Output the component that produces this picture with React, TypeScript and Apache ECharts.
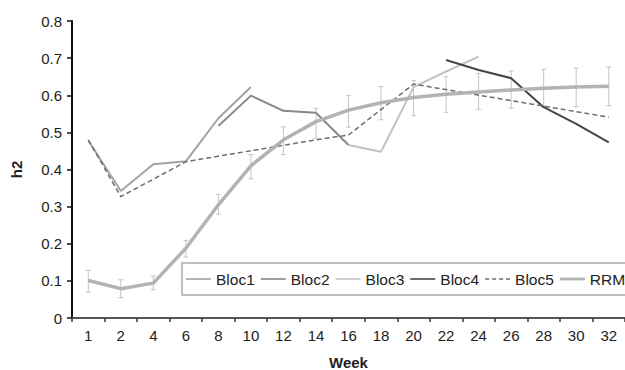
import React, { useEffect, useRef } from "react";
import * as echarts from "echarts";

const weeks = ["1", "2", "4", "6", "8", "10", "12", "14", "16", "18", "20", "22", "24", "26", "28", "30", "32"];
const bloc1 = [0.478, 0.342, 0.414, 0.422, 0.538, 0.622, null, null, null, null, null, null, null, null, null, null, null];
const bloc2 = [null, null, null, null, 0.517, 0.599, 0.558, 0.553, 0.466, null, null, null, null, null, null, null, null];
const bloc3 = [null, null, null, null, null, null, null, null, 0.466, 0.448, 0.622, 0.664, 0.704, null, null, null, null];
const bloc4 = [null, null, null, null, null, null, null, null, null, null, null, 0.695, 0.668, 0.646, 0.568, 0.523, 0.473];
const bloc5 = [0.48, 0.327, null, 0.421, null, null, null, 0.48, 0.493, null, 0.63, null, null, null, null, null, 0.541];
const rrm = [0.101, 0.079, 0.094, 0.188, 0.305, 0.41, 0.48, 0.529, 0.56, 0.58, 0.594, 0.603, 0.609, 0.614, 0.619, 0.622, 0.624];
const rrmLow = [0.07, 0.055, 0.076, 0.164, 0.28, 0.375, 0.44, 0.484, 0.514, 0.534, 0.545, 0.554, 0.562, 0.565, 0.569, 0.569, 0.572];
const rrmHigh = [0.128, 0.103, 0.113, 0.209, 0.333, 0.44, 0.515, 0.565, 0.599, 0.623, 0.64, 0.65, 0.659, 0.665, 0.67, 0.673, 0.676];

const FONT = "'Liberation Sans', Arial, sans-serif";

const ICON_SOLID = "path://M0,0M25,4M0,1.2h25v1.6h-25z";
const ICON_DASH = "path://M0,0M25,4M0,1.3h4v1.4h-4zM7,1.3h4v1.4h-4zM14,1.3h4v1.4h-4zM21,1.3h4v1.4h-4z";
const ICON_THICK = "path://M0,0M25,4M0,0.6h25v2.8h-25z";

export default function App() {
  const ref = useRef<HTMLDivElement>(null);
  useEffect(() => {
    if (!ref.current) return;
    const chart = echarts.init(ref.current, null, { renderer: "svg" });
    const lineSeries = (name: string, data: any[], color: string, width: number, extra: any = {}) => ({
      name,
      type: "line",
      data,
      symbol: "none",
      connectNulls: !!extra.connectNulls,
      lineStyle: { color, width, ...(extra.lineStyle || {}) },
      itemStyle: { color },
      z: extra.z ?? 3,
    });
    chart.setOption({
      animation: false,
      backgroundColor: "#ffffff",
      textStyle: { fontFamily: FONT },
      grid: { left: 72, right: 0, top: 21, bottom: 52, containLabel: false, outerBoundsMode: "none" },
      legend: {
        left: 182,
        top: 263,
        width: 480,
        orient: "horizontal",
        data: [
          { name: "Bloc1", icon: ICON_SOLID },
          { name: "Bloc2", icon: ICON_SOLID },
          { name: "Bloc3", icon: ICON_SOLID },
          { name: "Bloc4", icon: ICON_SOLID },
          { name: "Bloc5", icon: ICON_DASH },
          { name: "RRM", icon: ICON_THICK },
        ],
        itemWidth: 25,
        itemHeight: 4,
        itemGap: 6,
        padding: [8, 30, 8, 4],
        borderColor: "#aaaaaa",
        borderWidth: 1.5,
        borderRadius: 0,
        backgroundColor: "#ffffff",
        textStyle: { fontFamily: FONT, fontSize: 15.5, color: "#222" },
      },
      xAxis: {
        type: "category",
        data: weeks,
        boundaryGap: true,
        name: "Week",
        nameLocation: "middle",
        nameGap: 37,
        nameTextStyle: { fontFamily: FONT, fontSize: 15, fontWeight: "bold", color: "#222" },
        axisLine: { lineStyle: { color: "#555", width: 2 } },
        axisTick: { show: true, inside: false, length: 4, alignWithLabel: false, lineStyle: { color: "#333", width: 1.5 } },
        axisLabel: { fontFamily: FONT, fontSize: 15, color: "#222", margin: 10, interval: 0 },
        splitLine: { show: false },
      },
      yAxis: {
        type: "value",
        min: 0,
        max: 0.8,
        interval: 0.1,
        name: "h2",
        nameLocation: "middle",
        nameRotate: 90,
        nameGap: 48,
        nameTextStyle: { fontFamily: FONT, fontSize: 15, fontWeight: "bold", color: "#222" },
        axisLine: { show: true, lineStyle: { color: "#111", width: 2 } },
        axisTick: { show: true, length: 5, lineStyle: { color: "#111", width: 1.5 } },
        axisLabel: { fontFamily: FONT, fontSize: 15, color: "#222", margin: 10, formatter: (v: number) => (v === 0 ? "0" : v.toFixed(1)) },
        splitLine: { show: false },
      },
      series: [
        {
          name: "err",
          type: "custom",
          data: weeks.map((_, i) => [i, rrmLow[i], rrmHigh[i]]),
          encode: { x: 0, y: [1, 2] },
          z: 1,
          silent: true,
          renderItem: (_params: any, api: any) => {
            const x = api.value(0);
            const lo = api.coord([x, api.value(1)]);
            const hi = api.coord([x, api.value(2)]);
            const w = 2.5;
            const st = { stroke: "#c4c4c4", lineWidth: 1 };
            return {
              type: "group",
              children: [
                { type: "line", shape: { x1: lo[0], y1: lo[1], x2: hi[0], y2: hi[1] }, style: st },
                { type: "line", shape: { x1: lo[0] - w, y1: lo[1], x2: lo[0] + w, y2: lo[1] }, style: st },
                { type: "line", shape: { x1: hi[0] - w, y1: hi[1], x2: hi[0] + w, y2: hi[1] }, style: st },
              ],
            };
          },
        },
        lineSeries("Bloc1", bloc1, "#a3a3a3", 2),
        lineSeries("Bloc2", bloc2, "#888888", 2),
        lineSeries("Bloc3", bloc3, "#c2c2c2", 2),
        lineSeries("Bloc4", bloc4, "#454545", 2),
        lineSeries("Bloc5", bloc5, "#6e6e6e", 1.5, { lineStyle: { type: [5, 3] }, connectNulls: true }),
        lineSeries("RRM", rrm, "#b3b3b3", 3.5, { z: 4 }),
      ],
    });
    return () => chart.dispose();
  }, []);
  return <div ref={ref} style={{ width: 625, height: 370, position: "absolute", left: 0, top: 0 }} />;
}
